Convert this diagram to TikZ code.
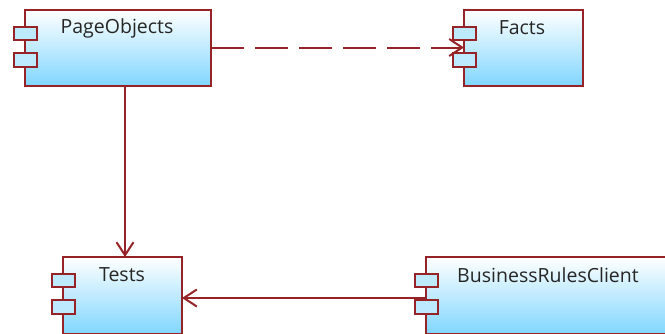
\documentclass[tikz,border=0pt]{standalone}
\usepackage{fontspec}
\setmainfont{Open Sans}
\usetikzlibrary{arrows.meta}
\definecolor{umlred}{RGB}{150,35,40}
\definecolor{umlblue}{RGB}{128,214,255}
\definecolor{tabblue}{RGB}{190,234,255}
\tikzset{
  x=1pt, y=-1pt,
  compbox/.style={draw=umlred, line width=2.2pt, top color=white, bottom color=umlblue},
  comptab/.style={draw=umlred, line width=2pt, fill=tabblue},
  complabel/.style={font=\fontsize{19.5}{22}\selectfont, text=black!85, inner sep=0pt},
  link/.style={draw=umlred, line width=2pt, -{Straight Barb[length=13pt,width=17pt,line width=2pt]}},
  dep/.style={link, dash pattern=on 33pt off 11pt}
}
% one component: box and two side tabs
\newcommand{\umlcomponent}[5]{% name, left, top, right, bottom
  \path[compbox] (#2,#3) rectangle (#4,#5);
  \path[comptab] ({#2-11},27) ++(0,{#3-10}) rectangle ++(23,13);
  \path[comptab] ({#2-11},53) ++(0,{#3-10}) rectangle ++(23,14);
  \coordinate (#1-nw) at (#2,#3);
  \coordinate (#1-se) at (#4,#5);
}
\begin{document}
\begin{tikzpicture}
\useasboundingbox (0,0) rectangle (665,333);
\clip (0,0) rectangle (665,333);

\umlcomponent{po}{25}{10}{211}{86}
\node[complabel] (pagelbl) at (117,28) {PageObjects};
\umlcomponent{fa}{464}{10}{583}{86}
\node[complabel] (factslbl) at (522,28) {Facts};
\umlcomponent{te}{63}{257}{182}{334}
\node[complabel] (testslbl) at (122,275) {Tests};
\umlcomponent{br}{426}{257}{680}{334}
\node[complabel] (brlbl) at (548,275) {BusinessRulesClient};

% anchor points of the connectors on the box edges
\coordinate (poR) at (211,47.5);
\coordinate (faL) at (464,47.5);
\coordinate (poB) at (125,86);
\coordinate (teT) at (125,257);
\coordinate (brL) at (426,298);
\coordinate (teR) at (182,298);

\draw[dep] (poR) -- (faL);
\draw[link] (poB) -- (teT);
\draw[link] (brL) -- (teR);
\end{tikzpicture}
\end{document}
